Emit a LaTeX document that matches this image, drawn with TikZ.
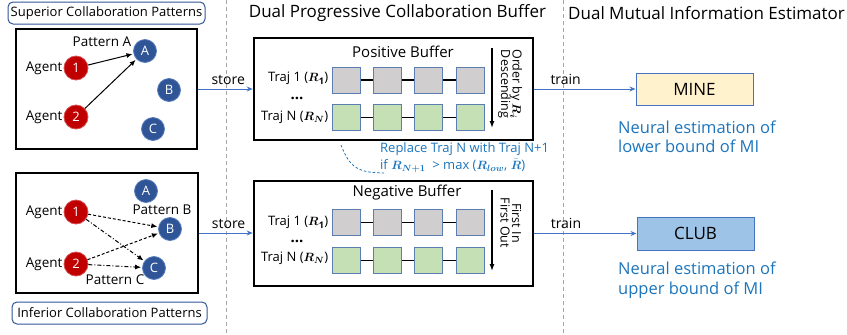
\documentclass[tikz,border=0pt]{standalone}
\usepackage{amsmath}
\usepackage{fontspec}
\setmainfont{Open Sans}
\usetikzlibrary{arrows.meta}

\definecolor{agentred}{HTML}{C00000}
\definecolor{agentrim}{HTML}{D65050}
\definecolor{targetblue}{HTML}{2F5597}
\definecolor{targetrim}{HTML}{5A7FBF}
\definecolor{tagrim}{HTML}{2F5597}
\definecolor{flowblue}{HTML}{4472C4}
\definecolor{sepgray}{HTML}{A6A6A6}
\definecolor{slotgray}{HTML}{D0CECE}
\definecolor{slotgreen}{HTML}{C5E0B4}
\definecolor{slotrim}{HTML}{5B7DB1}
\definecolor{mineyellow}{HTML}{FFF2CC}
\definecolor{clubblue}{HTML}{9DC3E6}
\definecolor{notetext}{HTML}{1C75BC}

\newcommand{\fsz}[1]{\fontsize{#1}{#1}\selectfont}

\begin{document}
\begin{tikzpicture}[x=1pt, y=-1pt,
  panel/.style={draw=black, line width=2.6pt, inner sep=0pt},
  tag/.style={draw=tagrim, rounded corners=5pt, line width=1pt, inner sep=0pt,
              minimum height=22pt, font=\fsz{13}},
  sepline/.style={draw=sepgray, line width=0.9pt, dash pattern=on 4pt off 3pt},
  header/.style={font=\fsz{17}},
  agent/.style={circle, fill=agentred, draw=agentrim, line width=0.8pt,
                minimum size=24pt, inner sep=0pt, text=white, font=\fsz{13}},
  target/.style={circle, fill=targetblue, draw=targetrim, line width=0.8pt,
                 minimum size=23pt, inner sep=0pt, text=white, font=\fsz{13}},
  plain/.style={font=\fsz{13.5}, inner sep=1pt},
  slotbox/.style={draw=slotrim, line width=1pt, minimum width=28pt,
                  minimum height=26pt, inner sep=0pt},
  graybox/.style={slotbox, fill=slotgray},
  greenbox/.style={slotbox, fill=slotgreen},
  chain/.style={draw=black, line width=1.8pt},
  pick/.style={draw=black, line width=1pt, -{Latex[length=6pt,width=5pt]}, shorten >=1pt},
  pickdash/.style={pick, dash pattern=on 3pt off 2pt},
  pickdot/.style={pick, dash pattern=on 4pt off 2pt on 1pt off 2pt},
  flow/.style={draw=flowblue, line width=1pt, -{Stealth[length=6pt,width=5pt]}},
  flowtext/.style={font=\fsz{14}, text=black},
  orderarrow/.style={draw=black, line width=1.3pt, -{Latex[length=7pt,width=5pt]}},
  estimator/.style={draw=flowblue, line width=1pt, minimum width=117pt,
                    minimum height=32pt, font=\fsz{17}},
  note/.style={text=notetext, align=left, inner sep=0pt}
]
\useasboundingbox (0,0) rectangle (847,335);

% column separators and headings
\coordinate (sepAtop) at (226,0);
\coordinate (sepAbot) at (226,335);
\coordinate (sepBtop) at (563,0);
\coordinate (sepBbot) at (563,335);
\draw[sepline] (sepAtop) -- (sepAbot);
\draw[sepline] (sepBtop) -- (sepBbot);
\node[header] (hbuf) at (397.5,13) {Dual Progressive Collaboration Buffer};
\node[header] (hest) at (706.5,13) {Dual Mutual Information Estimator};

% ---------- superior patterns ----------
\node[tag, minimum width=197pt] (suptag) at (106.5,13) {Superior Collaboration Patterns};
\node[panel, minimum width=181pt, minimum height=120pt] (supbox) at (106.5,89) {};
\node[agent] (sa1) at (76,68) {1};
\node[agent] (sa2) at (76,117) {2};
\node[plain, anchor=east] (sa1l) at (sa1.west) {Agent};
\node[plain, anchor=east] (sa2l) at (sa2.west) {Agent};
\node[target] (sA) at (145,51) {A};
\node[target] (sB) at (169,90) {B};
\node[target] (sC) at (153,129) {C};
\node[plain] (spA) at (102,42) {Pattern A};
\draw[pick] (sa1) -- (sA);
\draw[pick] (sa2) -- (sA);

% ---------- inferior patterns ----------
\node[panel, minimum width=182pt, minimum height=120pt] (infbox) at (107,233) {};
\node[tag, minimum width=195pt] (inftag) at (109.5,313) {Inferior Collaboration Patterns};
\node[agent] (ia1) at (76,212) {1};
\node[agent] (ia2) at (76,264) {2};
\node[plain, anchor=east] (ia1l) at (ia1.west) {Agent};
\node[plain, anchor=east] (ia2l) at (ia2.west) {Agent};
\node[target] (iA) at (146,191) {A};
\node[target] (iB) at (170,229) {B};
\node[target] (iC) at (154,268) {C};
\node[plain] (ipB) at (162,210) {Pattern B};
\node[plain] (ipC) at (115,280) {Pattern C};
\draw[pickdash] (ia1) -- (iB);
\draw[pickdash] (ia2) -- (iB);
\draw[pickdot] (ia1) -- (iC);
\draw[pickdot] (ia2) -- (iC);

% ---------- positive buffer ----------
\node[panel, minimum width=279pt, minimum height=102pt] (posbuf) at (393.5,89) {};
\node[font=\fsz{15}] (postitle) at (403,52) {Positive Buffer};
\foreach \i/\x in {1/346,2/387.5,3/428.5,4/470} {
  \node[graybox] (pa\i) at (\x,80) {};
  \node[greenbox] (pb\i) at (\x,117.5) {};
}
\foreach \i/\j in {1/2,2/3,3/4} {
  \draw[chain] (pa\i) -- (pa\j);
  \draw[chain] (pb\i) -- (pb\j);
}
\node[plain, anchor=east, font=\fsz{13}] (pt1) at ([xshift=-2pt,yshift=1.5pt]pa1.west) {Traj 1 ($\boldsymbol{R}_{\mathbf{1}}$)};
\node[plain, anchor=east, font=\fsz{13}] (ptn) at ([xshift=-2pt]pb1.west) {Traj N ($\boldsymbol{R}_{\boldsymbol{N}}$)};
\node[font=\fsz{15}\bfseries] (pdots) at (297,98) {...};
\coordinate (pordtop) at (492,48);
\coordinate (pordbot) at (492,128);
\draw[orderarrow] (pordtop) -- (pordbot);
\node[rotate=-90, align=center, font=\fsz{12.5}, inner sep=0pt] (pord) at (510,84)
  {Order by $\boldsymbol{R}_{\boldsymbol{i}}$\\[-1pt]Descending};

% ---------- negative buffer ----------
\node[panel, minimum width=279pt, minimum height=105pt] (negbuf) at (393.5,233.5) {};
\node[font=\fsz{15}] (negtitle) at (407,193) {Negative Buffer};
\foreach \i/\x in {1/346,2/387.5,3/428.5,4/470} {
  \node[graybox] (na\i) at (\x,222.5) {};
  \node[greenbox] (nb\i) at (\x,260.5) {};
}
\foreach \i/\j in {1/2,2/3,3/4} {
  \draw[chain] (na\i) -- (na\j);
  \draw[chain] (nb\i) -- (nb\j);
}
\node[plain, anchor=east, font=\fsz{13}] (nt1) at ([xshift=-2pt]na1.west) {Traj 1 ($\boldsymbol{R}_{\mathbf{1}}$)};
\node[plain, anchor=east, font=\fsz{13}] (ntn) at ([xshift=-2pt,yshift=2pt]nb1.west) {Traj N ($\boldsymbol{R}_{\boldsymbol{N}}$)};
\node[font=\fsz{15}\bfseries] (ndots) at (297,241) {...};
\coordinate (nordtop) at (492,190);
\coordinate (nordbot) at (492,271);
\draw[orderarrow] (nordtop) -- (nordbot);
\node[rotate=-90, align=center, font=\fsz{12.5}, inner sep=0pt] (nord) at (511,223)
  {First In\\[-1pt]First Out};

% ---------- replacement rule ----------
\node[note, anchor=west, font=\fsz{13}] (rule) at (380,157.5)
  {Replace Traj N with Traj N+1\\[2.5pt]
   if $\boldsymbol{R}_{\boldsymbol{N+1}}$\ \ > max ($\boldsymbol{R}_{\boldsymbol{low}}$, $\bar{\boldsymbol{R}}$)};
\coordinate (rulestart) at (341,145);
\coordinate (ruleend) at (386,173);
\draw[draw=notetext, line width=0.8pt, dash pattern=on 2.5pt off 2pt]
  (rulestart) .. controls (350,168) and (358,173) .. (ruleend);

% ---------- estimators ----------
\node[estimator, fill=mineyellow] (mine) at (694.5,89) {MINE};
\node[estimator, fill=clubblue, minimum height=33pt] (club) at (695.5,233.5) {CLUB};
\node[note, anchor=west, font=\fsz{16.5}, text=notetext] (minenote) at (618,137)
  {Neural estimation of\\[3pt]lower bound of MI};
\node[note, anchor=west, font=\fsz{16.5}, text=notetext] (clubnote) at (618,280)
  {Neural estimation of\\[3pt]upper bound of MI};

% ---------- data flow ----------
\draw[flow] (supbox.east) -- node[flowtext, pos=0.55, above=1pt] {store} (supbox.east -| posbuf.west);
\draw[flow] (infbox.east) -- node[flowtext, pos=0.55, above=1pt] {store} (infbox.east -| negbuf.west);
\draw[flow] (posbuf.east) -- node[flowtext, pos=0.31, above=1pt] {train} (mine.west);
\draw[flow] (negbuf.east) -- node[flowtext, pos=0.31, above=1pt] {train} (negbuf.east -| club.west);
\end{tikzpicture}
\end{document}
